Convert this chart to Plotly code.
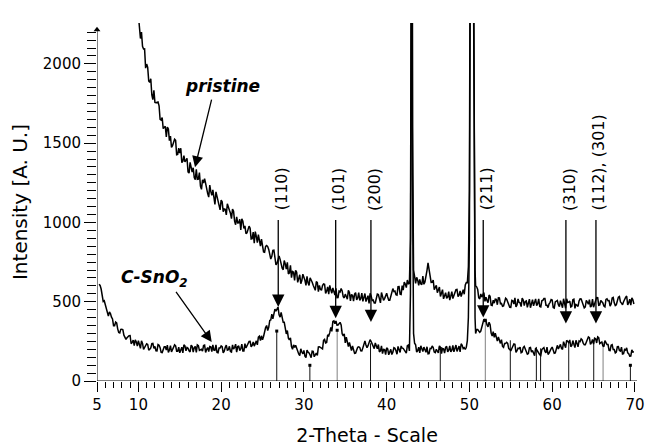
import plotly.graph_objects as go

FONT = "DejaVu Sans"

# ---------------- data ----------------
step = 0.25

# pristine: readings at 10.00, 10.25, ... and at the in-between positions 10.125, 10.375, ...
pristine_start = 10.0
pristine_int = [
    2307, 2160, 2111, 2095,
    1999, 1893, 1906, 1775,
    1757, 1758, 1736, 1646,
    1592, 1607, 1602, 1516,
    1473, 1513, 1518, 1429,
    1437, 1377, 1422, 1392,
    1319, 1379, 1317, 1283,
    1335, 1273, 1230, 1269,
    1276, 1198, 1160, 1196,
    1205, 1114, 1163, 1117,
    1141, 1068, 1083, 1118,
    1077, 1024, 1071, 986,
    997, 1020, 1023, 962,
    929, 956, 963, 898,
    869, 912, 923, 850,
    861, 812, 855, 830,
    769, 824, 771, 742,
    789, 737, 702, 739,
    748, 682, 652, 687,
    698, 622, 670, 634,
    658, 603, 619, 651,
    623, 585, 627, 564,
    578, 602, 610, 567,
    547, 575, 587, 542,
    525, 567, 583, 532,
    548, 516, 558, 546,
    504, 557, 523, 508,
    554, 521, 501, 538,
    553, 508, 492, 528,
    545, 493, 540, 520,
    553, 510, 539, 583,
    567, 541, 596, 546,
    573, 612, 637, 615,
    3200, 700, 616, 636,
    641, 607, 610, 682,
    745, 645, 623, 576,
    603, 581, 533, 576,
    539, 522, 564, 535,
    520, 560, 578, 541,
    533, 576, 606, 620,
    1200, 5000, 2400, 600,
    578, 518, 529, 557,
    529, 494, 534, 476,
    491, 515, 525, 487,
    471, 501, 516, 477,
    464, 506, 524, 479,
    496, 469, 511, 502,
    465, 516, 486, 474,
    518, 488, 470, 506,
    520, 478, 463, 496,
    511, 460, 502, 481,
    507, 462, 483, 519,
    497, 467, 512, 458,
    478, 505, 517, 481,
    468, 498, 513, 474,
    465, 507, 525, 480,
    500, 473, 515, 506,
    472, 523, 493, 481,
    529, 499, 481, 517,
    536, 494, 479, 512,
]
pristine_mid_start = 10.125
pristine_mid_int = [
    2208, 2201, 2094, 1973,
    1978, 1884, 1804, 1834,
    1755, 1760, 1651, 1662,
    1604, 1539, 1589, 1545,
    1484, 1525, 1427, 1469,
    1468, 1386, 1382, 1405,
    1311, 1349, 1345, 1270,
    1272, 1315, 1209, 1248,
    1247, 1182, 1235, 1171,
    1134, 1193, 1147, 1079,
    1130, 1085, 1048, 1103,
    1058, 1085, 1008, 1035,
    998, 953, 1008, 979,
    934, 977, 896, 939,
    942, 873, 872, 895,
    814, 849, 848, 783,
    786, 825, 732, 767,
    767, 711, 760, 705,
    675, 729, 691, 634,
    686, 646, 614, 674,
    635, 660, 603, 629,
    604, 572, 620, 603,
    572, 612, 553, 594,
    603, 554, 560, 585,
    526, 562, 568, 524,
    533, 572, 505, 540,
    548, 511, 557, 520,
    502, 552, 528, 489,
    537, 511, 492, 548,
    524, 558, 509, 545,
    530, 510, 570, 564,
    544, 595, 548, 601,
    623, 589, 613, 900,
    1600, 660, 654, 603,
    613, 662, 625, 698,
    705, 622, 637, 586,
    557, 593, 562, 518,
    557, 529, 510, 564,
    543, 576, 532, 568,
    559, 547, 621, 720,
    3500, 4600, 900, 594,
    525, 549, 549, 502,
    508, 542, 478, 510,
    516, 481, 524, 489,
    474, 522, 501, 465,
    509, 485, 467, 518,
    493, 523, 475, 505,
    486, 462, 513, 501,
    476, 518, 467, 509,
    520, 478, 487, 514,
    463, 499, 508, 469,
    480, 519, 459, 495,
    504, 471, 516, 483,
    470, 518, 497, 461,
    508, 484, 466, 517,
    496, 526, 478, 508,
    492, 468, 519, 507,
    485, 527, 476, 518,
    533, 491, 500, 527,
    480, 516, 525, 486,
]
pristine_peak_theta = [43.06, 50.68]
pristine_peak_int = [4200, 700]

csno2_start = 5.25
csno2_int = [
    610, 580, 502,
    481, 428, 435, 403,
    349, 372, 329, 303,
    327, 289, 263, 284,
    287, 244, 224, 246,
    254, 206, 237, 215,
    235, 194, 209, 237,
    218, 190, 226, 180,
    193, 216, 226, 195,
    183, 208, 221, 188,
    178, 213, 228, 190,
    206, 183, 218, 211,
    180, 223, 198, 188,
    226, 200, 185, 216,
    228, 193, 180, 208,
    221, 178, 213, 195,
    219, 182, 201, 232,
    216, 192, 232, 190,
    208, 235, 250, 225,
    220, 253, 276, 255,
    260, 313, 350, 339,
    385, 392, 453, 458,
    417, 432, 370, 320,
    318, 259, 217, 228,
    225, 180, 160, 183,
    193, 148, 182, 164,
    188, 153, 176, 215,
    211, 202, 262, 243,
    285, 338, 375, 362,
    352, 365, 353, 285,
    240, 247, 243, 192,
    201, 176, 213, 212,
    189, 242, 227, 223,
    261, 229, 204, 225,
    230, 190, 173, 198,
    209, 165, 200, 182,
    206, 169, 189, 221,
    206, 182, 223, 190,
    3000, 300, 228, 192,
    177, 201, 214, 181,
    171, 206, 221, 183,
    200, 177, 212, 205,
    176, 219, 194, 184,
    225, 200, 187, 220,
    235, 204, 199, 255,
    900, 4500, 2800, 300,
    325, 307, 345, 390,
    380, 342, 355, 283,
    275, 281, 278, 237,
    218, 237, 244, 205,
    190, 221, 232, 191,
    204, 178, 211, 202,
    169, 210, 183, 171,
    208, 181, 166, 198,
    211, 178, 167, 198,
    214, 175, 215, 202,
    231, 199, 223, 257,
    242, 216, 255, 211,
    228, 253, 266, 238,
    229, 257, 273, 242,
    233, 267, 279, 236,
    246, 216, 244, 230,
    192, 229, 198, 183,
    217, 188, 170, 199,
    209, 172, 157, 183,
]
csno2_mid_start = 5.375
csno2_mid_int = [
    603, 520, 506,
    458, 409, 425, 391,
    349, 366, 306, 326,
    323, 276, 273, 286,
    235, 258, 259, 220,
    225, 254, 200, 226,
    231, 200, 236, 206,
    191, 230, 210, 179,
    216, 195, 180, 223,
    203, 228, 188, 213,
    198, 178, 221, 211,
    190, 226, 183, 218,
    228, 193, 200, 223,
    180, 211, 218, 185,
    195, 228, 178, 208,
    216, 188, 226, 198,
    186, 228, 211, 182,
    222, 203, 190, 236,
    220, 249, 215, 246,
    239, 228, 282, 285,
    281, 337, 318, 382,
    422, 415, 441, 466,
    403, 402, 370, 297,
    270, 273, 200, 212,
    208, 171, 203, 171,
    156, 195, 177, 147,
    187, 170, 162, 216,
    211, 256, 240, 291,
    305, 313, 379, 379,
    353, 370, 298, 297,
    276, 217, 208, 221,
    174, 205, 216, 190,
    209, 252, 210, 243,
    248, 212, 240, 203,
    184, 221, 199, 167,
    203, 182, 167, 210,
    191, 218, 180, 207,
    194, 176, 227, 550,
    1300, 238, 182, 213,
    222, 186, 193, 216,
    173, 204, 211, 179,
    189, 222, 173, 203,
    212, 183, 221, 194,
    184, 227, 211, 183,
    225, 210, 213, 400,
    3000, 4700, 800, 325,
    315, 315, 376, 377,
    353, 371, 302, 311,
    301, 252, 247, 261,
    212, 237, 238, 200,
    205, 234, 180, 207,
    213, 182, 218, 188,
    173, 212, 192, 160,
    197, 176, 161, 205,
    187, 214, 176, 204,
    193, 177, 225, 221,
    206, 248, 210, 248,
    259, 225, 232, 257,
    216, 249, 259, 229,
    242, 278, 231, 262,
    270, 240, 274, 241,
    222, 255, 230, 193,
    225, 198, 177, 216,
    192, 214, 172, 195,
    178, 156, 197, 185,
]
csno2_peak_theta = [43.06, 50.68]
csno2_peak_int = [4000, 400]

# reference stick pattern
ref_theta = [26.72, 30.72, 34.02, 38.05, 46.48, 51.92, 54.94, 58.09, 58.60, 62.00, 65.02, 66.15, 69.45]
ref_int = [315, 99, 320, 238, 205, 383, 257, 215, 206, 246, 257, 246, 99]
ref_gray = [False, False, True, False, False, True, False, False, False, False, False, True, False]
ref_dot = [True, True, True, False, True, True, False, False, False, False, False, False, True]

# Miller-index markers
hkl_labels = ["(110)", "(101)", "(200)", "(211)", "(310)", "(112), (301)"]
hkl_theta = [26.9, 33.84, 38.10, 51.67, 61.66, 65.29]
hkl_tip = [467, 396, 372, 400, 362, 362]
hkl_tail = 1025

x_ticks = [5, 10, 20, 30, 40, 50, 60, 70]
y_ticks = [0, 500, 1000, 1500, 2000]
x_max = 70.25
y_max = 2258
y_axis_top = 2215


def series(start, vals, mid_start, mids, extra_x, extra_y):
    pts = [(round(start + step * i, 3), v) for i, v in enumerate(vals)]
    pts += [(round(mid_start + step * i, 3), v) for i, v in enumerate(mids)]
    pts += list(zip(extra_x, extra_y))
    pts.sort()
    return [p[0] for p in pts], [p[1] for p in pts]


px, py = series(pristine_start, pristine_int, pristine_mid_start, pristine_mid_int,
                pristine_peak_theta, pristine_peak_int)
cx, cy = series(csno2_start, csno2_int, csno2_mid_start, csno2_mid_int,
                csno2_peak_theta, csno2_peak_int)

fig = go.Figure()


def sticks(sel):
    xs, ys = [], []
    for t, h, s in zip(ref_theta, ref_int, sel):
        if s:
            xs += [t, t, None]
            ys += [0, h, None]
    return xs, ys


sx, sy = sticks([not g for g in ref_gray])
fig.add_trace(go.Scatter(x=sx, y=sy, mode="lines", line=dict(color="#111111", width=1), hoverinfo="skip"))
sx, sy = sticks(ref_gray)
fig.add_trace(go.Scatter(x=sx, y=sy, mode="lines", line=dict(color="#808080", width=1), hoverinfo="skip"))
fig.add_trace(go.Scatter(
    x=[t for t, d in zip(ref_theta, ref_dot) if d],
    y=[h for h, d in zip(ref_int, ref_dot) if d],
    mode="markers", marker=dict(symbol="square", size=3, color="black"), hoverinfo="skip"))

fig.add_trace(go.Scatter(x=px, y=py, mode="lines", line=dict(color="black", width=1.5), name="pristine"))
fig.add_trace(go.Scatter(x=cx, y=cy, mode="lines", line=dict(color="black", width=1.5), name="C-SnO2"))

# axis arrow heads
fig.add_trace(go.Scatter(x=[5], y=[y_axis_top], mode="markers", cliponaxis=False, hoverinfo="skip",
                         marker=dict(symbol="triangle-up", size=6, color="black")))
fig.add_trace(go.Scatter(x=[x_max + 0.1], y=[0], mode="markers", cliponaxis=False, hoverinfo="skip",
                         marker=dict(symbol="triangle-right", size=6, color="black")))

shapes = [
    dict(type="line", xref="x", yref="y", x0=5, x1=5, y0=0, y1=y_axis_top, line=dict(color="black", width=1)),
    dict(type="line", xref="x", yref="y", x0=5, x1=x_max, y0=0, y1=0, line=dict(color="black", width=1)),
]

ann = []
for lab, t, tip in zip(hkl_labels, hkl_theta, hkl_tip):
    ann.append(dict(x=t, y=tip, ax=t, ay=hkl_tail, xref="x", yref="y", axref="x", ayref="y", text="",
                    showarrow=True, arrowhead=2, arrowsize=1.9, arrowwidth=1.3, arrowcolor="black"))
    ann.append(dict(x=t + 0.35, y=1062, xref="x", yref="y", text=lab, showarrow=False, textangle=-90,
                    xanchor="center", yanchor="bottom", font=dict(family=FONT, size=16, color="black")))

# sample labels
ann.append(dict(x=16.84, y=1348, ax=18.89, ay=1784, xref="x", yref="y", axref="x", ayref="y", text="",
                showarrow=True, arrowhead=2, arrowsize=1.7, arrowwidth=1.3, arrowcolor="black"))
ann.append(dict(x=20.2, y=1784, xref="x", yref="y", text="<b><i>pristine</i></b>", showarrow=False,
                xanchor="center", yanchor="bottom", font=dict(family=FONT, size=17, color="black")))
ann.append(dict(x=18.86, y=246, ax=14.42, ay=572, xref="x", yref="y", axref="x", ayref="y", text="",
                showarrow=True, arrowhead=2, arrowsize=1.7, arrowwidth=1.3, arrowcolor="black"))
ann.append(dict(x=11.9, y=648, xref="x", yref="y", text="<b><i>C-SnO<sub>2</sub></i></b>", showarrow=False,
                xanchor="center", yanchor="middle", font=dict(family=FONT, size=17, color="black")))

fig.update_layout(
    width=649, height=446,
    margin=dict(l=97, r=12, t=23, b=65, pad=0, autoexpand=False),
    paper_bgcolor="white", plot_bgcolor="white",
    showlegend=False,
    font=dict(family=FONT, size=15, color="black"),
    annotations=ann,
    shapes=shapes,
    xaxis=dict(range=[5, x_max], automargin=False, showline=False, showgrid=False, zeroline=False,
               title=dict(text="2-Theta - Scale", standoff=17, font=dict(family=FONT, size=19, color="black")),
               tickmode="array", tickvals=x_ticks, ticks="outside", ticklen=10, tickwidth=1,
               tickcolor="black", tickfont=dict(family=FONT, size=15, color="black"),
               minor=dict(tickmode="array", tickvals=list(range(5, 71)), ticks="outside",
                          ticklen=6, tickwidth=1, tickcolor="black")),
    yaxis=dict(range=[0, y_max], automargin=False, showline=False, showgrid=False, zeroline=False,
               title=dict(text="Intensity [A. U.]", standoff=9, font=dict(family=FONT, size=20, color="black")),
               tickmode="array", tickvals=y_ticks, ticks="outside", ticklen=12, tickwidth=1,
               tickcolor="black", tickfont=dict(family=FONT, size=15, color="black"),
               minor=dict(tickmode="array", tickvals=list(range(0, 2201, 50)), ticks="outside",
                          ticklen=9, tickwidth=1, tickcolor="black")),
)

fig.write_html("out.html")
